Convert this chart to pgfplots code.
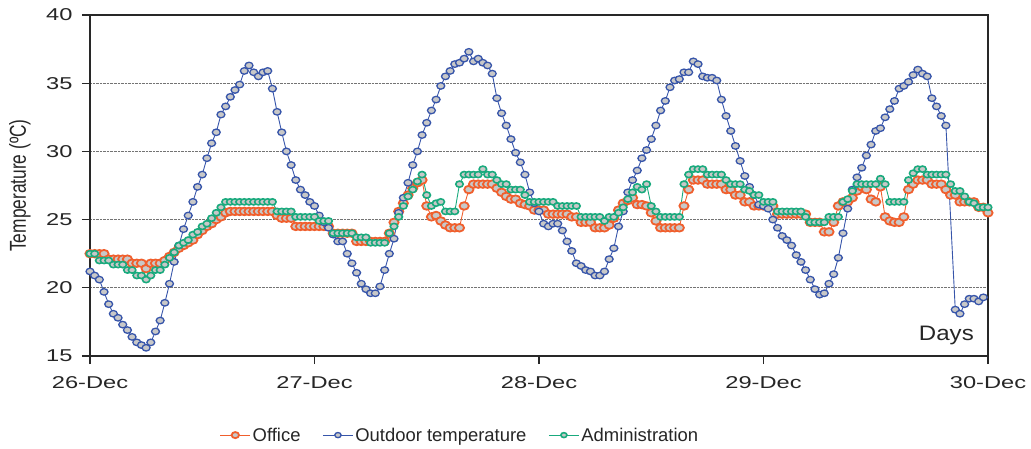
\documentclass[border=0pt]{standalone}
\usepackage{fontspec}
\setmainfont{Liberation Sans}
\usepackage{graphicx}
\usepackage{pgfplots}
\usepackage{pgfplotstable}
\pgfplotsset{compat=1.18}
\definecolor{office}{RGB}{240,95,45}
\definecolor{outdoor}{RGB}{55,85,170}
\definecolor{admin}{RGB}{25,170,125}
\definecolor{mfill}{RGB}{200,200,200}
\definecolor{axcol}{RGB}{40,40,40}
\pgfplotstableread{
i F O A
0 22.5 21.2 22.5
1 22.5 20.9 22.5
2 22.5 20.6 22.0
3 22.5 19.7 22.0
4 22.1 18.8 22.0
5 22.1 18.1 21.7
6 22.1 17.8 21.7
7 22.1 17.3 21.7
8 22.1 16.9 21.3
9 21.8 16.4 21.3
10 21.8 16.0 20.9
11 21.8 15.8 20.9
12 21.4 15.6 20.6
13 21.8 16.0 20.9
14 21.8 16.8 21.3
15 21.8 17.6 21.3
16 22.0 18.9 21.7
17 22.3 20.3 22.2
18 22.6 21.9 22.6
19 22.9 23.1 23.1
20 23.1 24.3 23.3
21 23.3 25.3 23.5
22 23.5 26.3 23.9
23 23.9 27.4 24.1
24 24.2 28.3 24.5
25 24.5 29.5 24.7
26 24.7 30.6 25.1
27 25.0 31.4 25.5
28 25.2 32.7 25.9
29 25.5 33.3 26.3
30 25.6 34.0 26.3
31 25.6 34.5 26.3
32 25.6 34.9 26.3
33 25.6 35.9 26.3
34 25.6 36.3 26.3
35 25.6 35.8 26.3
36 25.6 35.5 26.3
37 25.6 35.8 26.3
38 25.6 35.9 26.3
39 25.6 34.6 26.3
40 25.3 32.9 25.6
41 25.1 31.4 25.6
42 25.1 30.0 25.6
43 25.1 29.0 25.6
44 24.5 27.9 25.2
45 24.5 27.2 25.2
46 24.5 26.8 25.2
47 24.5 26.3 25.2
48 24.5 26.0 25.2
49 24.5 25.3 24.9
50 24.5 24.8 24.9
51 24.5 24.4 24.9
52 24.0 23.9 24.0
53 24.0 23.4 24.0
54 24.0 23.4 24.0
55 24.0 22.5 24.0
56 24.0 21.8 24.0
57 23.4 21.1 23.7
58 23.4 20.3 23.7
59 23.4 19.9 23.7
60 23.4 19.6 23.3
61 23.4 19.6 23.3
62 23.4 20.1 23.3
63 23.4 21.3 23.3
64 24.0 22.5 24.0
65 24.8 23.6 24.5
66 25.6 25.5 25.2
67 26.2 26.6 26.0
68 26.8 27.7 26.7
69 27.3 29.0 27.2
70 27.7 30.0 27.8
71 27.9 31.2 28.3
72 26.0 32.1 26.8
73 25.2 33.0 26.0
74 25.3 33.8 26.2
75 24.9 34.8 26.3
76 24.6 35.5 25.6
77 24.4 35.9 25.6
78 24.4 36.4 25.6
79 24.4 36.5 27.6
80 26.0 36.8 28.3
81 27.2 37.3 28.3
82 27.6 36.6 28.3
83 27.6 36.8 28.3
84 27.6 36.5 28.7
85 27.6 36.3 28.3
86 27.6 35.7 28.3
87 27.3 33.9 27.9
88 27.0 32.8 27.6
89 26.7 31.9 27.6
90 26.5 30.9 27.2
91 26.5 29.9 27.2
92 26.2 29.2 27.2
93 26.1 28.3 26.8
94 26.0 27.0 26.3
95 25.7 26.2 26.3
96 25.7 25.6 26.3
97 25.7 24.7 26.3
98 25.4 24.5 26.3
99 25.4 24.7 26.3
100 25.4 24.7 26.0
101 25.4 24.2 26.0
102 25.4 23.4 26.0
103 25.2 22.7 26.0
104 25.2 21.8 26.0
105 24.8 21.6 25.2
106 24.8 21.3 25.2
107 24.8 21.2 25.2
108 24.4 20.9 25.2
109 24.4 20.9 25.2
110 24.4 21.2 24.9
111 24.6 22.1 25.2
112 25.1 22.9 25.2
113 25.7 24.5 25.5
114 26.2 25.6 25.9
115 26.4 27.0 26.5
116 26.6 27.9 27.0
117 26.1 28.6 27.4
118 26.1 29.5 27.2
119 26.0 30.1 27.6
120 25.5 30.9 26.0
121 24.9 31.9 25.6
122 24.4 33.0 25.2
123 24.4 33.7 25.2
124 24.4 34.7 25.2
125 24.4 35.2 25.2
126 24.4 35.3 25.2
127 26.0 35.8 27.6
128 27.2 35.8 28.3
129 27.9 36.6 28.7
130 27.9 36.4 28.7
131 27.9 35.5 28.7
132 27.6 35.4 28.3
133 27.6 35.4 28.3
134 27.6 35.2 28.3
135 27.6 33.8 28.3
136 27.2 32.6 27.9
137 27.2 31.5 27.6
138 26.8 30.4 27.6
139 26.8 29.3 27.6
140 26.3 28.2 27.2
141 26.3 27.4 27.1
142 26.0 26.8 26.8
143 26.0 26.1 26.8
144 26.0 26.0 26.3
145 26.0 25.8 26.3
146 26.0 25.0 26.3
147 25.4 24.4 25.6
148 25.4 23.8 25.6
149 25.4 23.5 25.6
150 25.4 23.1 25.6
151 25.4 22.4 25.6
152 25.4 21.9 25.6
153 25.4 21.3 25.2
154 24.8 20.6 24.8
155 24.8 19.9 24.8
156 24.8 19.5 24.8
157 24.1 19.6 24.8
158 24.1 20.3 25.2
159 24.8 21.0 25.2
160 26.0 22.2 25.2
161 26.3 24.0 26.3
162 26.3 25.8 26.5
163 26.6 27.2 27.1
164 27.1 28.1 27.6
165 27.4 28.8 27.6
166 27.2 29.7 27.6
167 26.5 30.5 27.6
168 26.3 31.5 27.6
169 27.4 31.7 28.0
170 25.2 32.5 27.6
171 24.9 33.1 26.3
172 24.8 33.7 26.3
173 24.8 34.6 26.3
174 25.2 34.8 26.3
175 27.2 35.1 27.9
176 27.6 35.6 28.4
177 27.9 36.0 28.7
178 27.9 35.7 28.7
179 27.9 35.5 28.3
180 27.6 33.9 28.3
181 27.6 33.3 28.3
182 27.6 32.6 28.3
183 27.2 31.9 28.3
184 26.8 nan 27.6
185 26.8 18.4 27.1
186 26.3 18.1 27.1
187 26.3 18.8 26.7
188 26.3 19.2 26.3
189 26.3 19.2 26.2
190 25.9 19.0 25.9
191 25.9 19.3 25.9
192 25.5 nan 25.9
}\data
\begin{document}
\begin{tikzpicture}
\begin{axis}[
  scale only axis, width=898bp, height=341bp,
  at={(0,0)}, anchor=south west,
  clip=false,
  xmin=0, xmax=192, ymin=15, ymax=40,
  xtick={0,48,96,144,192},
  xticklabels={\scalebox{1.38}[1]{26-Dec},\scalebox{1.38}[1]{27-Dec},\scalebox{1.38}[1]{28-Dec},\scalebox{1.38}[1]{29-Dec},\scalebox{1.38}[1]{30-Dec}},
  ytick={15,20,25,30,35,40},
  yticklabel={\scalebox{1.38}[1]{\pgfmathprintnumber[assume math mode=true]{\tick}}},
  tick label style={font=\fontsize{17.2}{20}\selectfont, text=black!85},
  xticklabel style={yshift=-9bp},
  yticklabel style={xshift=-6bp},
  tick align=outside, xtick pos=bottom, ytick pos=left,
  major tick length=8bp,
  ymajorgrids, grid style={densely dotted, black!55, line width=0.9bp},
  axis line style={axcol, line width=1.3bp},
  tick style={axcol, line width=1.1bp},
  ylabel={\scalebox{1}[1.33]{Temperature (ºC)}},
  ylabel style={font=\fontsize{17.4}{20}\selectfont, text=black!85, at={(axis description cs:-0.078,0.5)}, anchor=center},
  legend style={at={(0.412,-0.232)}, anchor=center, draw=none, fill=none,
    font=\fontsize{18.5}{22}\selectfont, text=black!85,
    /tikz/every even column/.append style={column sep=20bp}},
  legend columns=3,
  legend image code/.code={\draw[mark repeat=2,mark phase=2, every mark/.append style={scale=0.8}] plot coordinates {(0bp,0bp)(15bp,0bp)(30bp,0bp)};},
]
\addplot[office, line width=0.9bp, mark=*, mark size=4.2bp,
  mark options={fill=mfill, draw=office, line width=1.8bp, xscale=1.1, yscale=0.9}]
  table[x=i, y=F] {\data};
\addlegendentry{Office}
\addplot[outdoor, line width=0.9bp, mark=*, mark size=3.6bp,
  mark options={fill=mfill, draw=outdoor, line width=1.3bp, xscale=1.1, yscale=0.9}]
  table[x=i, y=O] {\data};
\addlegendentry{Outdoor temperature}
\addplot[admin, line width=0.9bp, mark=*, mark size=3.4bp,
  mark options={fill=mfill, draw=admin, line width=1.6bp, xscale=1.1, yscale=0.9}]
  table[x=i, y=A] {\data};
\addlegendentry{Administration}
\node[font=\fontsize{21}{24}\selectfont, text=black!85] at (axis cs:183.1,16.5) {\scalebox{1.15}[1]{Days}};
\end{axis}
\path (-90bp,-93bp) rectangle (941bp,356bp);
\end{tikzpicture}
\end{document}
